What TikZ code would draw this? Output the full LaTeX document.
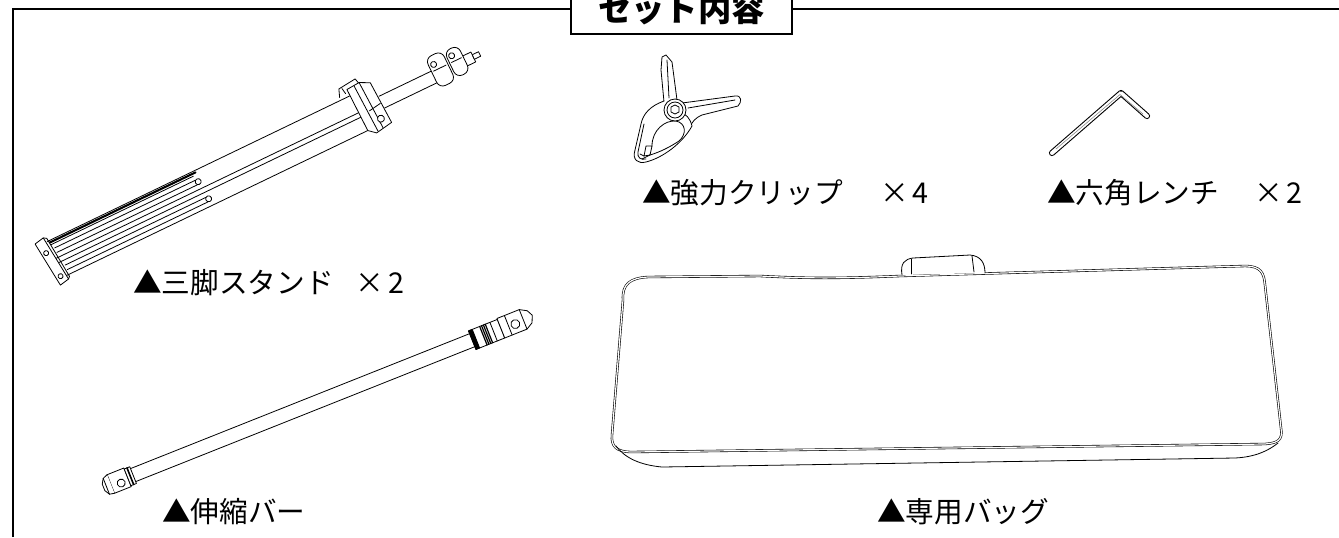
\documentclass[tikz,border=0pt]{standalone}
\usepackage{fontspec}
\newfontfamily\jp{Noto Sans CJK JP}
\tikzset{
  lbl/.style={font=\jp\fontsize{21.5}{26}\selectfont, inner sep=0pt, anchor=west},
  art/.style={line width=0.6pt, line join=round, line cap=round},
  frame/.style={line width=1.5pt},
}
\begin{document}
\begin{tikzpicture}[x=0.75pt,y=-0.75pt]
\useasboundingbox (0,0) rectangle (1339,537);
% frame
\draw[frame] (13,537) -- (13,9) -- (571,9);
\draw[frame] (792,9) -- (1345,9);
\draw[frame, fill=white] (571,-10) rectangle (792,34);
\node[font=\jp\bfseries\fontsize{25}{30}\selectfont, inner sep=0pt] (title) at (681.5,8.5) {セット内容};

% ---------------- tripod stand (folded) ----------------
\begin{scope}[shift={(40,245)}, rotate=25.7, art]
  % legs
  \draw (8,0) -- (345,0);
  \draw[line width=1.6pt, dash pattern=on 1.5pt off 0.4pt] (10,2) -- (172,2);
  \draw (10,4.5) -- (168,4.5);
  \draw (12,9) -- (168,9);
  \draw (12,14) -- (168,14);
  \draw[fill=white] (170,11.5) circle (3);
  \draw (6,19) -- (347,19);
  \draw (6,24) -- (347,24);
  \draw (14,29) -- (170,29);
  \draw (14,34) -- (170,34);
  \draw[fill=white] (172,31.5) circle (3);
  \draw (4,39) -- (347,39);
  % foot cap
  \draw[fill=white] (-4,-3) -- (6,-5) -- (11,43) -- (1,45) -- cycle;
  \draw (6,-5) -- (9,-3) -- (13,41) -- (11,43);
  \draw (2,10) circle (2.5);
  \draw (5,37) circle (2.5);
  % upper hinge lip
  \draw[fill=white] (334,-3) -- (337,-11) -- (356,-13) -- (358,-5);
  \draw (340,-10) -- (341,-4);
  % bracket
  \draw[fill=white] (344,-7) -- (358,-8) -- (368,-3) -- (370,42) -- (352,45) -- (345,39) -- cycle;
  \draw (352,-7) -- (354,44);
  \draw (358,-8) -- (360,43);
  \draw (355,22) -- (368,20);
  \draw[fill=white] (362,34) circle (3.5);
  % centre pole
  \draw (370,13) -- (428,13);
  \draw (370,26) -- (428,26);
  % clamps
  \draw[fill=white, rounded corners=5] (428,-1) rectangle (446,32);
  \draw (433,8) circle (3);
  \draw (430,14) -- (444,14);
  \draw[fill=white, rounded corners=5] (448,1) rectangle (463,30);
  \draw (453,8) circle (3);
  \draw (450,14) -- (461,14);
  % top pin
  \draw (463,13) -- (472,13) -- (472,24) -- (463,24);
  \draw[fill=white] (472,16) rectangle (479,21);
\end{scope}

% ---------------- extension bar ----------------
\begin{scope}[shift={(103,486)}, rotate=21.7, art]
  \draw (32,-6) -- (397,-6);
  \draw (32,8) -- (397,8);
  % lower end
  \draw[fill=white] (8,-9) -- (26,-9) -- (26,11) -- (8,11) -- cycle;
  \draw[fill=white] (8,-9) -- (3,-7) -- (0,-2) -- (0,5) -- (3,10) -- (8,11);
  \draw (3,-7) -- (3,10);
  \draw[fill=white] (18,4) circle (4);
  \draw[fill=white] (26,-8) rectangle (32,10);
  \draw[line width=1.2pt] (29,-8) -- (29,10);
  % upper collar
  \draw[fill=white] (397,-9) rectangle (428,11);
  \draw[fill=black] (397,-9) rectangle (401,11);
  \draw[line width=0.9pt] (409,-9) -- (409,11) (411,-9) -- (411,11) (413,-9) -- (413,11) (415,-9) -- (415,11);
  \draw (420,-9) -- (420,11);
  % upper connector
  \draw[fill=white] (428,-10) -- (452,-10) -- (459,-6) -- (462,0) -- (459,7) -- (452,11) -- (428,11) -- cycle;
  \draw (452,-10) -- (452,11);
  \draw (436,-10) -- (436,11);
  \draw[fill=white] (443,2) circle (4.5);
\end{scope}

% ---------------- clip ----------------
\begin{scope}[art]
  % upper arm
  \draw[fill=white] (664,102) -- (661,70) -- (662,57) -- (666,55) -- (672,62) -- (677,100);
  \draw (667,60) -- (669,98);
  % right handle
  \draw[fill=white] (682,103) -- (735,96) .. controls (742,95) and (742,102) .. (738,106) -- (702,115) .. controls (695,118) and (692,122) .. (690,127);
  \draw (688,108) -- (735,100);
  % body / lower jaw
  \draw[fill=white] (664,101) .. controls (650,106) and (643,114) .. (641,124) -- (635,150)
     .. controls (632,160) and (638,164) .. (646,162) .. controls (662,158) and (682,144) .. (692,126)
     .. controls (690,118) and (686,114) .. (680,112);
  \draw (644,124) -- (638,152) .. controls (637,158) and (641,160) .. (646,159);
  % jaw opening
  \draw[fill=white] (652,146) .. controls (652,130) and (665,120) .. (676,121)
     .. controls (686,123) and (687,134) .. (679,141) .. controls (670,147) and (660,152) .. (650,155);
  \draw (646,146) -- (652,146) -- (650,155) -- (644,156) -- cycle;
  \draw (640,154) -- (644,156) (642,159) -- (650,155);
  % pivot
  \draw[fill=white] (675,110) circle (11);
  \draw (675,110) circle (8);
  \draw (671,107) -- (675,105) -- (679,107) -- (679,112) -- (675,114) -- (671,112) -- cycle;
\end{scope}

% ---------------- hex wrench ----------------
\draw[line width=4.6pt, line cap=round, line join=round] (1052,153) -- (1121,93) -- (1147,116);
\draw[line width=3pt, white, line cap=round, line join=round] (1052,153) -- (1121,93) -- (1147,116);
\draw[line width=0.4pt, gray] (1056,149) -- (1120,94.5) -- (1143,114);

% ---------------- bag ----------------
\begin{scope}[art]
  \draw[double, double distance=0.9pt, line width=0.45pt]
    (623,300) .. controls (622,284) and (630,278) .. (648,277)
    -- (760,276) .. controls (800,278) and (830,279) .. (900,276) -- (1245,266)
    .. controls (1261,266) and (1264,273) .. (1265,285)
    -- (1281,428) .. controls (1283,440) and (1278,443) .. (1265,444)
    -- (632,452) .. controls (616,452) and (611,446) .. (612,435) -- cycle;
  \draw (616,446) .. controls (625,458) and (640,465) .. (662,467)
    -- (1235,458) .. controls (1255,457) and (1268,451) .. (1278,443);
  % handle
  \draw[fill=white] (902,275) .. controls (900,263) and (905,259) .. (913,258) -- (970,255)
     .. controls (981,256) and (985,263) .. (985,273);
  \draw (911,259) -- (911,274);
  \draw (972,256) -- (974,272);
\end{scope}

% ---------------- labels ----------------
\node[lbl] (lstand) at (133,283) {▲三脚スタンド\hspace{0.75em}×\hspace{0.15em}2};
\node[lbl] (lclip) at (642,193) {▲強力クリップ\hspace{1.3em}×\hspace{0.12em}4};
\node[lbl] (lwrench) at (1047,193) {▲六角レンチ\hspace{1.24em}×\hspace{0.1em}2};
\node[lbl] (lbar) at (162,512) {▲伸縮バー};
\node[lbl] (lbag) at (877,512) {▲専用バッグ};
\end{tikzpicture}
\end{document}
